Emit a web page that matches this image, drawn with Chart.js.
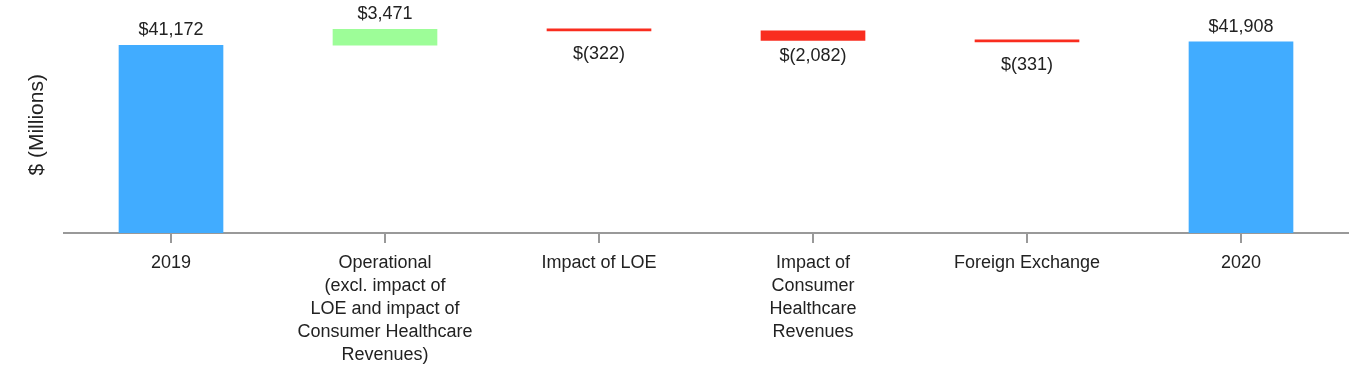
<!DOCTYPE html>
<html lang="en">
<head>
    <meta charset="UTF-8">
    <title>Revenue bridge 2019 to 2020</title>
    <script src="https://cdn.jsdelivr.net/npm/chart.js"></script>
    <style>
        html, body {
            margin: 0;
            padding: 0;
            background: #ffffff;
        }
        .chart-box {
            width: 1368px;
            height: 384px;
            position: relative;
        }
    </style>
</head>
<body>
    <div class="chart-box">
        <canvas id="bridgeChart"></canvas>
    </div>

    <script>
        // categories (multi-line tick labels)
        const categories = [
            ['2019'],
            ['Operational', '(excl. impact of', 'LOE and impact of', 'Consumer Healthcare', 'Revenues)'],
            ['Impact of LOE'],
            ['Impact of', 'Consumer', 'Healthcare', 'Revenues'],
            ['Foreign Exchange'],
            ['2020']
        ];
        // $ millions; totals are full bars, the rest are changes
        const values = [41172, 3471, -322, -2082, -331, 41908];
        const isTotal = [true, false, false, false, false, true];
        const valueLabels = ['$41,172', '$3,471', '$(322)', '$(2,082)', '$(331)', '$41,908'];

        const blue = '#41acff';
        const green = '#9dfd98';
        const red = '#f92d1f';

        // build floating ranges for the waterfall
        let running = 0;
        const ranges = values.map(function (v, i) {
            if (isTotal[i]) {
                running = v;
                return [0, v];
            }
            const start = running;
            running = running + v;
            return [start, running];
        });
        const colors = values.map(function (v, i) {
            if (isTotal[i]) return blue;
            return v >= 0 ? green : red;
        });

        const labelPlugin = {
            id: 'barLabels',
            afterDatasetsDraw(chart) {
                const ctx = chart.ctx;
                const meta = chart.getDatasetMeta(0);
                ctx.save();
                ctx.font = '18px "Liberation Sans", Arial, sans-serif';
                ctx.fillStyle = '#222222';
                ctx.textAlign = 'center';
                ctx.textBaseline = 'middle';
                meta.data.forEach(function (bar, i) {
                    const upper = Math.min(bar.y, bar.base);
                    const y = values[i] >= 0 ? upper - 15 : upper + 25;
                    ctx.fillText(valueLabels[i], bar.x, y);
                });
                ctx.restore();
            }
        };

        Chart.defaults.font.family = '"Liberation Sans", Arial, sans-serif';
        Chart.defaults.color = '#222222';

        new Chart(document.getElementById('bridgeChart'), {
            type: 'bar',
            data: {
                labels: categories,
                datasets: [{
                    data: ranges,
                    backgroundColor: colors,
                    borderSkipped: false,
                    barThickness: 104,
                    minBarLength: 2
                }]
            },
            options: {
                responsive: true,
                maintainAspectRatio: false,
                animation: false,
                layout: {
                    padding: { top: 5, right: 20, left: 0, bottom: 0 }
                },
                plugins: {
                    legend: { display: false },
                    tooltip: { enabled: false }
                },
                scales: {
                    x: {
                        grid: {
                            display: true,
                            drawOnChartArea: false,
                            drawTicks: true,
                            tickLength: 10,
                            offset: false,
                            color: '#999999',
                            lineWidth: 2
                        },
                        border: { display: true, color: '#999999', width: 2 },
                        ticks: {
                            padding: 9,
                            maxRotation: 0,
                            autoSkip: false,
                            color: '#222222',
                            font: { size: 18, lineHeight: '23px' }
                        },
                        afterFit(scale) {
                            scale.height = 151;
                        }
                    },
                    y: {
                        min: 0,
                        max: 50000,
                        grid: { display: false },
                        border: { display: false },
                        ticks: { display: false },
                        title: {
                            display: true,
                            text: '$ (Millions)  ',
                            color: '#222222',
                            font: { size: 21 },
                            padding: { top: 25, bottom: 0 }
                        },
                        afterFit(scale) {
                            scale.width = 64;
                        }
                    }
                }
            },
            plugins: [labelPlugin]
        });
    </script>
</body>
</html>
